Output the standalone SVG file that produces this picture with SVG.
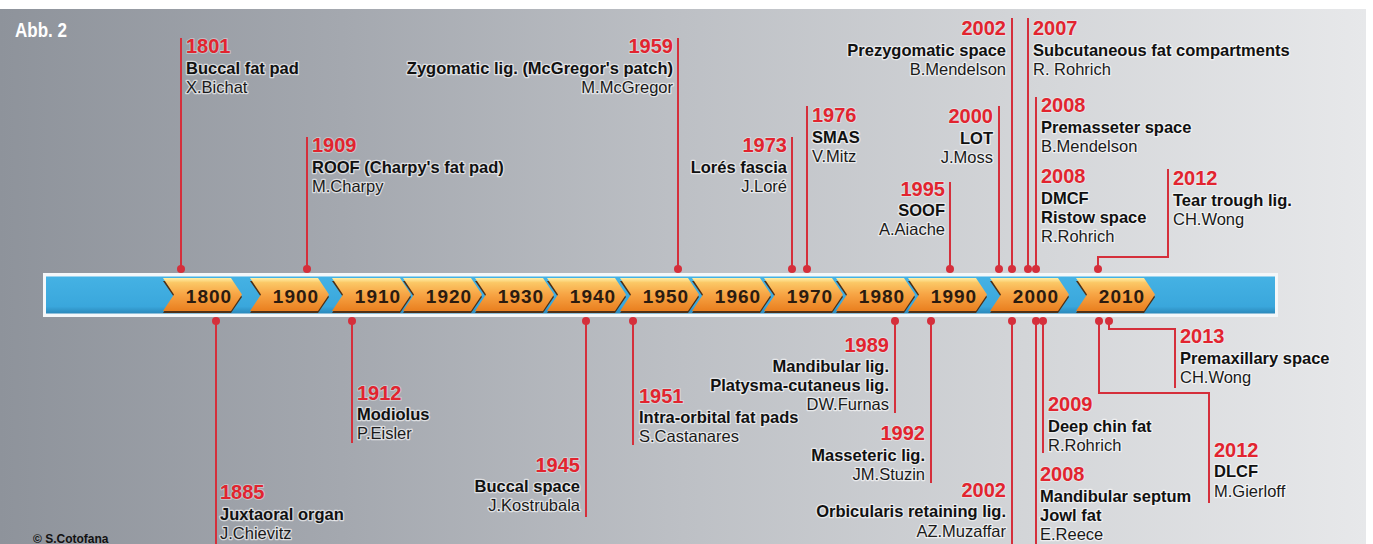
<svg xmlns="http://www.w3.org/2000/svg" xmlns:xlink="http://www.w3.org/1999/xlink" width="1373" height="544" viewBox="0 0 1373 544">
<defs>
<linearGradient id="bg" x1="0" y1="0" x2="1366" y2="0" gradientUnits="userSpaceOnUse">
<stop offset="0" stop-color="#8e939b"/>
<stop offset="0.25" stop-color="#a4a8af"/>
<stop offset="0.5" stop-color="#bdc0c5"/>
<stop offset="0.75" stop-color="#d3d5d8"/>
<stop offset="1" stop-color="#e7e8ea"/>
</linearGradient>
<linearGradient id="org" x1="0" y1="278" x2="0" y2="311" gradientUnits="userSpaceOnUse">
<stop offset="0" stop-color="#fff0a8"/>
<stop offset="0.14" stop-color="#fbc866"/>
<stop offset="0.5" stop-color="#f7a444"/>
<stop offset="1" stop-color="#e97f1f"/>
</linearGradient>
<linearGradient id="blu" x1="0" y1="276" x2="0" y2="314" gradientUnits="userSpaceOnUse">
<stop offset="0" stop-color="#45b2e4"/>
<stop offset="0.8" stop-color="#3aa7dc"/>
<stop offset="1" stop-color="#2a86b8"/>
</linearGradient>
<g id="chev">
<path d="M0,281 L68,281 L79,297 L68,313 L0,313 L11,297 Z" fill="#4e3016"/>
<path d="M0,278 L68,278 L79,294.5 L68,311 L0,311 L11,294.5 Z" fill="url(#org)"/>
</g>
</defs>
<style>
text{font-family:"Liberation Sans",Arial,Helvetica,sans-serif;}
.yr{font-weight:bold;font-size:20px;fill:#e2242f;stroke:#fff;stroke-width:2;stroke-opacity:.35;paint-order:stroke;stroke-linejoin:round}
.nm{font-weight:bold;font-size:16.5px;fill:#111;stroke:#fff;stroke-width:2.6;stroke-opacity:.6;paint-order:stroke;stroke-linejoin:round}
.au{font-size:16.5px;fill:#1a1a1a;stroke:#fff;stroke-width:2.6;stroke-opacity:.6;paint-order:stroke;stroke-linejoin:round}
.e{text-anchor:end}
.ct{font-weight:bold;font-size:19px;fill:#2b1b10;letter-spacing:1px;text-anchor:middle}
.ln{stroke:#d52f3b;stroke-width:2;fill:none}
.dot{fill:#d52f3b}
</style>
<rect x="0" y="0" width="1373" height="544" fill="#ffffff"/>
<rect x="0" y="9" width="1366" height="535" fill="url(#bg)"/>
<text x="15" y="37" font-size="20" font-weight="bold" fill="#ffffff" textLength="52" lengthAdjust="spacingAndGlyphs">Abb. 2</text>
<text x="33" y="543" font-size="12" font-weight="bold" fill="#111">© S.Cotofana</text>

<g id="timeline-bar">
<rect x="43" y="273" width="1235" height="44" fill="#f4f7f9"/>
<rect x="46" y="276.5" width="1229" height="37" fill="url(#blu)"/>
</g>

<g id="chevrons">
<g id="c1800"><use xlink:href="#chev" x="163"/><text class="ct" x="209" y="303">1800</text></g>
<g id="c1900"><use xlink:href="#chev" x="250"/><text class="ct" x="296" y="303">1900</text></g>
<g id="c1910"><use xlink:href="#chev" x="332"/><text class="ct" x="378" y="303">1910</text></g>
<g id="c1920"><use xlink:href="#chev" x="403"/><text class="ct" x="449" y="303">1920</text></g>
<g id="c1930"><use xlink:href="#chev" x="475"/><text class="ct" x="521" y="303">1930</text></g>
<g id="c1940"><use xlink:href="#chev" x="547"/><text class="ct" x="593" y="303">1940</text></g>
<g id="c1950"><use xlink:href="#chev" x="620"/><text class="ct" x="666" y="303">1950</text></g>
<g id="c1960"><use xlink:href="#chev" x="692"/><text class="ct" x="738" y="303">1960</text></g>
<g id="c1970"><use xlink:href="#chev" x="764"/><text class="ct" x="810" y="303">1970</text></g>
<g id="c1980"><use xlink:href="#chev" x="836"/><text class="ct" x="882" y="303">1980</text></g>
<g id="c1990"><use xlink:href="#chev" x="908"/><text class="ct" x="954" y="303">1990</text></g>
<g id="c2000"><use xlink:href="#chev" x="990"/><text class="ct" x="1036" y="303">2000</text></g>
<g id="c2010"><use xlink:href="#chev" x="1076"/><text class="ct" x="1122" y="303">2010</text></g>
</g>

<g id="connectors">
<path class="ln" d="M181 38V269M307 137V269M678 38V269M792 137V269M807 106V269M950 182V269M999 106V269M1012 18V269M1028 18V269M1036 97V269M1168 169V257H1098V269"/>
<path class="ln" d="M216 321V544M352 321V443M586 321V517M633 321V445M895 321V413M931 321V483M1012 321V544M1036 321V544M1043 321V453M1109 321V329H1175V388M1099 321V393H1209V503"/>
<g class="dot">
<circle cx="181" cy="269" r="4"/><circle cx="307" cy="269" r="4"/><circle cx="678" cy="269" r="4"/><circle cx="792" cy="269" r="4"/><circle cx="807" cy="269" r="4"/><circle cx="950" cy="269" r="4"/><circle cx="999" cy="269" r="4"/><circle cx="1012" cy="269" r="4"/><circle cx="1028" cy="269" r="4"/><circle cx="1036" cy="269" r="4"/><circle cx="1098" cy="269" r="4"/>
<circle cx="216" cy="321" r="4"/><circle cx="352" cy="321" r="4"/><circle cx="586" cy="321" r="4"/><circle cx="633" cy="321" r="4"/><circle cx="895" cy="321" r="4"/><circle cx="931" cy="321" r="4"/><circle cx="1012" cy="321" r="4"/><circle cx="1036" cy="321" r="4"/><circle cx="1043" cy="321" r="4"/><circle cx="1099" cy="321" r="4"/><circle cx="1109" cy="321" r="4"/>
</g>
</g>

<g id="e1801"><text class="yr" x="186" y="53">1801</text><text class="nm" x="186" y="74">Buccal fat pad</text><text class="au" x="186" y="93">X.Bichat</text></g>
<g id="e1909"><text class="yr" x="312" y="152">1909</text><text class="nm" x="312" y="173">ROOF (Charpy's fat pad)</text><text class="au" x="312" y="192">M.Charpy</text></g>
<g id="e1959"><text class="yr e" x="673" y="53">1959</text><text class="nm e" x="673" y="74">Zygomatic lig. (McGregor's patch)</text><text class="au e" x="673" y="93">M.McGregor</text></g>
<g id="e1973"><text class="yr e" x="787" y="152">1973</text><text class="nm e" x="787" y="173">Lorés fascia</text><text class="au e" x="787" y="192">J.Loré</text></g>
<g id="e1976"><text class="yr" x="812" y="122">1976</text><text class="nm" x="812" y="143">SMAS</text><text class="au" x="812" y="162">V.Mitz</text></g>
<g id="e1995"><text class="yr e" x="945" y="196">1995</text><text class="nm e" x="945" y="216">SOOF</text><text class="au e" x="945" y="235">A.Aiache</text></g>
<g id="e2000"><text class="yr e" x="993" y="123">2000</text><text class="nm e" x="993" y="144">LOT</text><text class="au e" x="993" y="163">J.Moss</text></g>
<g id="e2002a"><text class="yr e" x="1006" y="35">2002</text><text class="nm e" x="1006" y="56">Prezygomatic space</text><text class="au e" x="1006" y="75">B.Mendelson</text></g>
<g id="e2007"><text class="yr" x="1033" y="35">2007</text><text class="nm" x="1033" y="56">Subcutaneous fat compartments</text><text class="au" x="1033" y="75">R. Rohrich</text></g>
<g id="e2008a"><text class="yr" x="1041" y="112">2008</text><text class="nm" x="1041" y="133">Premasseter space</text><text class="au" x="1041" y="152">B.Mendelson</text></g>
<g id="e2008b"><text class="yr" x="1041" y="183">2008</text><text class="nm" x="1041" y="204">DMCF</text><text class="nm" x="1041" y="223">Ristow space</text><text class="au" x="1041" y="242">R.Rohrich</text></g>
<g id="e2012a"><text class="yr" x="1173" y="185">2012</text><text class="nm" x="1173" y="206">Tear trough lig.</text><text class="au" x="1173" y="225">CH.Wong</text></g>

<g id="e1885"><text class="yr" x="220" y="499">1885</text><text class="nm" x="220" y="520">Juxtaoral organ</text><text class="au" x="220" y="539">J.Chievitz</text></g>
<g id="e1912"><text class="yr" x="357" y="400">1912</text><text class="nm" x="357" y="420">Modiolus</text><text class="au" x="357" y="439">P.Eisler</text></g>
<g id="e1945"><text class="yr e" x="580" y="472">1945</text><text class="nm e" x="580" y="492">Buccal space</text><text class="au e" x="580" y="511">J.Kostrubala</text></g>
<g id="e1951"><text class="yr" x="639" y="403">1951</text><text class="nm" x="639" y="423">Intra-orbital fat pads</text><text class="au" x="639" y="442">S.Castanares</text></g>
<g id="e1989"><text class="yr e" x="889" y="352">1989</text><text class="nm e" x="889" y="372">Mandibular lig.</text><text class="nm e" x="889" y="391">Platysma-cutaneus lig.</text><text class="au e" x="889" y="410">DW.Furnas</text></g>
<g id="e1992"><text class="yr e" x="925" y="440">1992</text><text class="nm e" x="925" y="461">Masseteric lig.</text><text class="au e" x="925" y="480">JM.Stuzin</text></g>
<g id="e2002b"><text class="yr e" x="1006" y="497">2002</text><text class="nm e" x="1006" y="517">Orbicularis retaining lig.</text><text class="au e" x="1006" y="537">AZ.Muzaffar</text></g>
<g id="e2009"><text class="yr" x="1048" y="411">2009</text><text class="nm" x="1048" y="432">Deep chin fat</text><text class="au" x="1048" y="451">R.Rohrich</text></g>
<g id="e2008c"><text class="yr" x="1040" y="481">2008</text><text class="nm" x="1040" y="502">Mandibular septum</text><text class="nm" x="1040" y="521">Jowl fat</text><text class="au" x="1040" y="540">E.Reece</text></g>
<g id="e2013"><text class="yr" x="1180" y="343">2013</text><text class="nm" x="1180" y="364">Premaxillary space</text><text class="au" x="1180" y="383">CH.Wong</text></g>
<g id="e2012b"><text class="yr" x="1214" y="457">2012</text><text class="nm" x="1214" y="477">DLCF</text><text class="au" x="1214" y="497">M.Gierloff</text></g>
</svg>
